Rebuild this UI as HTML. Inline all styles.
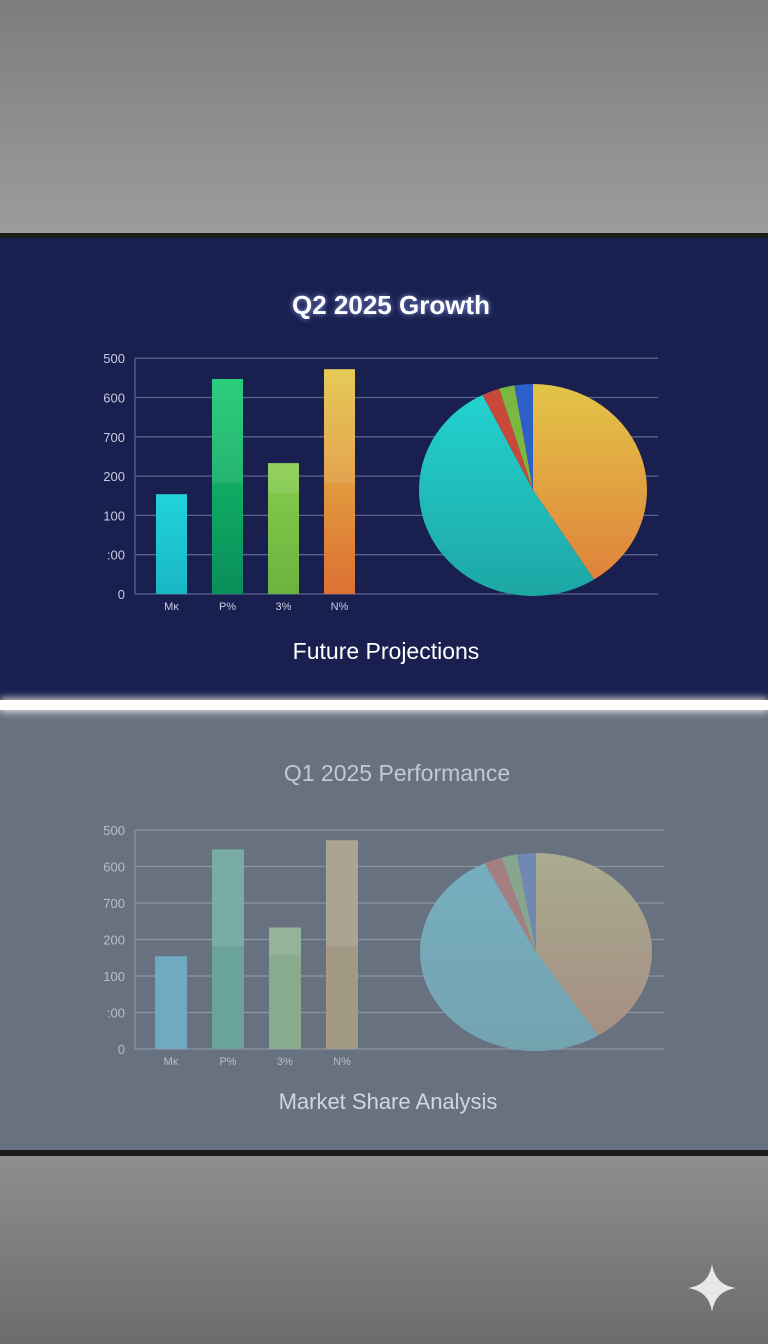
<!DOCTYPE html>
<html><head><meta charset="utf-8">
<style>
html,body{margin:0;padding:0;width:768px;height:1344px;overflow:hidden}
body{background:radial-gradient(ellipse at 50% 40%,#9a9a9a 0%,#8a8a8a 50%,#6e6e6e 100%);font-family:"Liberation Sans",sans-serif;position:relative}
#wall-top{position:absolute;left:0;top:0;width:768px;height:233px;background:linear-gradient(#7d7d7d,#9c9c9c)}
#wall-bot{position:absolute;left:0;top:1156px;width:768px;height:188px;background:linear-gradient(#8e8e8e,#6c6c6c)}
#frame{position:absolute;left:0;top:233px;width:768px;height:923px;background:#1c1c1c}
svg{position:absolute;left:0;top:0}
</style></head><body>
<div id="wall-top"></div>
<div id="wall-bot"></div>
<div id="frame"></div>
<svg id="s" width="768" height="1344" viewBox="0 0 768 1344">
<defs>
<filter id="glow" x="-20%" y="-200%" width="140%" height="500%"><feGaussianBlur stdDeviation="4"/></filter>
<filter id="tglow"><feGaussianBlur stdDeviation="3"/></filter>
<linearGradient id="gY" x1="0" y1="0" x2="0" y2="1"><stop offset="0" stop-color="#e2c548"/><stop offset="1" stop-color="#e0823a"/></linearGradient>
<linearGradient id="gT" x1="0" y1="0" x2="0" y2="1"><stop offset="0" stop-color="#22d2d0"/><stop offset="1" stop-color="#1ea7a4"/></linearGradient>
<linearGradient id="gYm" x1="0" y1="0" x2="0" y2="1"><stop offset="0" stop-color="#a9ac8e"/><stop offset="1" stop-color="#a58e84"/></linearGradient>
<linearGradient id="gTm" x1="0" y1="0" x2="0" y2="1"><stop offset="0" stop-color="#76aebf"/><stop offset="1" stop-color="#74a3b0"/></linearGradient>
<linearGradient id="b0" x1="0" y1="0" x2="0" y2="1"><stop offset="0" stop-color="#22d3da"/><stop offset="1" stop-color="#18b7c4"/></linearGradient>
<linearGradient id="b1" x1="0" y1="0" x2="0" y2="1"><stop offset="0" stop-color="#14c86c"/><stop offset="1" stop-color="#0a8e5a"/></linearGradient>
<linearGradient id="b2" x1="0" y1="0" x2="0" y2="1"><stop offset="0" stop-color="#86cc4c"/><stop offset="1" stop-color="#6ab43e"/></linearGradient>
<linearGradient id="b3" x1="0" y1="0" x2="0" y2="1"><stop offset="0" stop-color="#e2c444"/><stop offset="1" stop-color="#de7034"/></linearGradient>
</defs>
<rect x="0" y="238" width="768" height="460" fill="#19204f"/>
<rect x="0" y="710" width="768" height="440" fill="#68717f"/>
<rect x="0" y="698" width="768" height="14" fill="#ffffff" filter="url(#glow)" opacity="0.8"/>
<rect x="0" y="700" width="768" height="10" fill="#ffffff"/>
<g id="top"></g><g id="bot"></g>
<path d="M712 1264 Q715 1285 736 1288 Q715 1291 712 1312 Q709 1291 688 1288 Q709 1285 712 1264Z" fill="#e8e8e8"/>
</svg>
<script>
const tickLabels=["0",":00","100","200","700","600","500"];
const categories=["M\u0138","P%","3%","N%"];
const barValues=[2.54,5.47,3.33,5.72];
const barSplits=[0,2.82,2.57,2.82];
const pieValues=[41,51.7,2.5,2.2,2.6];
const NS="http://www.w3.org/2000/svg";
function mk(p,t,a){const e=document.createElementNS(NS,t);for(const k in a)e.setAttribute(k,a[k]);p.appendChild(e);return e;}
function draw(g,o){
  const y=v=>o.y0-v*o.step;
  const yMax=tickLabels.length-1;
  tickLabels.forEach((t,i)=>{
    const l=mk(g,'line',{x1:o.ax,x2:o.ax2,y1:y(i),y2:y(i),stroke:o.grid,'stroke-width':1.3});
    
    
    const tx=mk(g,'text',{x:o.ax-10,y:y(i)+5,'text-anchor':'end','font-size':13,fill:o.tick});
    tx.textContent=t;
    
    
  });
  mk(g,'line',{x1:o.ax,x2:o.ax,y1:y(yMax),y2:y(0),stroke:o.grid,'stroke-width':1.3});
  const tot=pieValues.reduce((a,b)=>a+b,0);let a0=0;
  pieValues.forEach((v,i)=>{
    const a1=a0+v/tot*2*Math.PI;
    const p=t=>[o.cx+o.rx*Math.sin(t),o.cy-o.ry*Math.cos(t)];
    const [x0,y0]=p(a0),[x1,y1]=p(a1);
    const s=mk(g,'path',{d:`M${o.cx} ${o.cy}L${x0} ${y0}A${o.rx} ${o.ry} 0 ${a1-a0>Math.PI?1:0} 1 ${x1} ${y1}Z`,fill:o.pie[i]});
    
    
    a0=a1;
  });
  barValues.forEach((v,i)=>{
    const x=o.bx+i*o.bgap;
    const b=mk(g,'rect',{x:x,y:y(v),width:o.bw,height:y(0)-y(v),fill:o.bars[i]});
    
    
    if(barSplits[i]>0){
      const h=mk(g,'rect',{x:x,y:y(v),width:o.bw,height:y(barSplits[i])-y(v),fill:'#ffffff',opacity:0.1});
      
      
    }
    const c=mk(g,'text',{x:x+o.bw/2,y:y(0)+16,'text-anchor':'middle','font-size':11,fill:o.tick});
    c.textContent=categories[i];
    
    
  });
}
const T=document.getElementById('top'),B=document.getElementById('bot');
draw(T,{y0:594,step:39.3,ax:135,ax2:658,grid:'#5a6290',tick:'#c8cce0',bx:156,bgap:56,bw:31,
  bars:['url(#b0)','url(#b1)','url(#b2)','url(#b3)'],cx:533,cy:490,rx:114,ry:106,
  pie:['url(#gY)','url(#gT)','#c8483a','#7bb841','#2f5fc8']});
draw(B,{y0:1049,step:36.5,ax:135,ax2:664,grid:'#8d95a3',tick:'#b8bec8',bx:155,bgap:57,bw:32,
  bars:['#6faac0','#6aa39a','#88ab8e','#a39a86'],cx:536,cy:952,rx:116,ry:99,
  pie:['url(#gYm)','url(#gTm)','#a47f82','#87a58f','#6f88b4']});
function txt(x,y,s,sz,fill,w,name,glow){
  if(glow){const gt=mk(document.getElementById('s'),'text',{x:x,y:y,'text-anchor':'middle','font-size':sz,fill:'#9fb0ff','font-weight':w,filter:'url(#tglow)',opacity:0.8});gt.textContent=s;}
  const t=mk(document.getElementById('s'),'text',{x:x,y:y,'text-anchor':'middle','font-size':sz,fill:fill,'font-weight':w});
  t.textContent=s;
  
  
}
txt(391,314,'Q2 2025 Growth',26,'#ffffff','bold','top-chart-title',true);
txt(386,659,'Future Projections',23,'#ffffff','normal','top-chart-subtitle',false);
txt(397,781,'Q1 2025 Performance',23,'#c3c8d2','normal','bottom-chart-title',false);
txt(388,1109,'Market Share Analysis',22,'#d2d6dd','normal','bottom-chart-subtitle',false);
</script>
</body></html>
